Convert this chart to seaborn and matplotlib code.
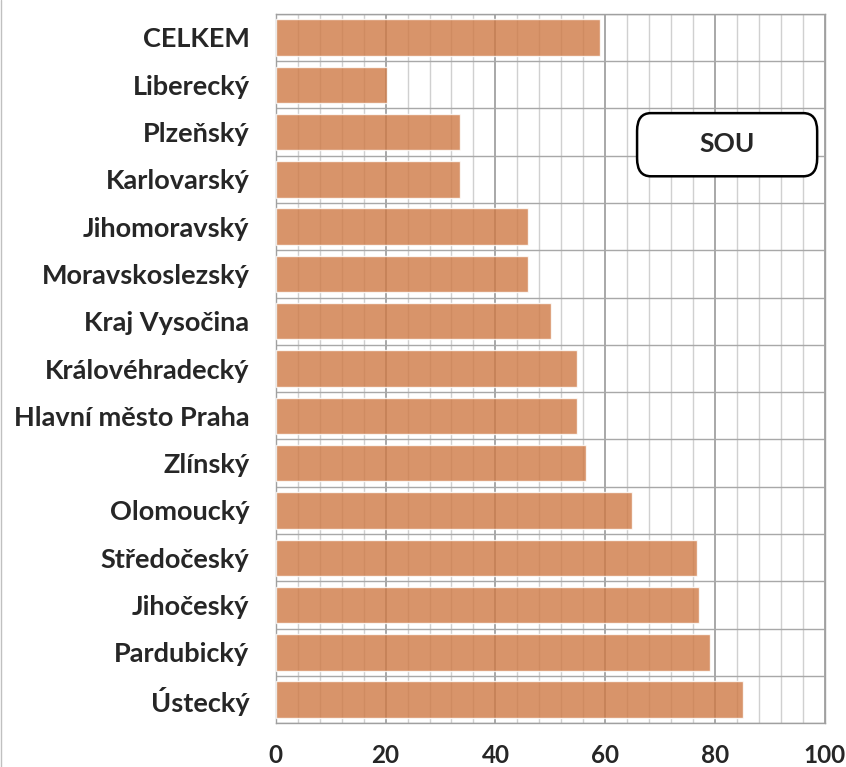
import pandas as pd
import matplotlib.pyplot as plt
import seaborn as sns
from matplotlib.patches import FancyBboxPatch
from matplotlib.ticker import MultipleLocator

# Data
kraje = ['CELKEM', 'Liberecký', 'Plzeňský', 'Karlovarský', 'Jihomoravský',
         'Moravskoslezský', 'Kraj Vysočina', 'Královéhradecký',
         'Hlavní město Praha', 'Zlínský', 'Olomoucký', 'Středočeský',
         'Jihočeský', 'Pardubický', 'Ústecký']
hodnoty = [59.0, 20.2, 33.5, 33.5, 46.0, 46.0, 50.1, 54.8, 54.8, 56.5,
           64.8, 76.7, 77.0, 79.1, 85.1]

df = pd.DataFrame({'kraj': kraje, 'hodnota': hodnoty})

sns.set_style('white')
plt.rcParams['font.family'] = ['Lato', 'DejaVu Sans']
plt.rcParams['font.weight'] = 'bold'

fig = plt.figure(figsize=(8.46, 7.67), dpi=100)
ax = fig.add_axes([0.326, 0.057, 0.649, 0.925])

sns.barplot(data=df, x='hodnota', y='kraj', orient='h', color='#CF7A45',
            alpha=0.8, saturation=1, width=0.77, ax=ax, zorder=3)

ax.set_xlim(0, 100)
ax.set_ylim(len(kraje) - 0.5, -0.5)
ax.xaxis.set_major_locator(MultipleLocator(20))
ax.xaxis.set_minor_locator(MultipleLocator(4))
ax.set_yticks([i + 0.5 for i in range(-1, len(kraje))], minor=True)

ax.grid(which='major', axis='x', color='#9a9a9a', linewidth=1.2, zorder=1)
ax.grid(which='minor', axis='x', color='#d0d0d0', linewidth=1.0, zorder=1)
ax.grid(which='minor', axis='y', color='#a8a8a8', linewidth=1.0, zorder=1)
ax.set_axisbelow(True)

for s in ax.spines.values():
    s.set_color('#a0a0a0')
    s.set_linewidth(1.0)

ax.tick_params(axis='y', which='major', length=0, pad=19, labelsize=19.5)
ax.tick_params(axis='y', which='minor', length=6, color='#a0a0a0', direction='out')
ax.tick_params(axis='x', which='major', length=7, color='#a0a0a0', direction='out',
               pad=8, labelsize=17.5)
ax.tick_params(axis='x', which='minor', length=0)

ax.set_xlabel('')
ax.set_ylabel('')

# SOU label box
box = FancyBboxPatch((0.658, 0.771), 0.328, 0.089, boxstyle='round,pad=0,rounding_size=0.025',
                     transform=ax.transAxes, facecolor='white', edgecolor='black',
                     linewidth=1.8, zorder=5)
ax.add_patch(box)
ax.text(0.822, 0.816, 'SOU', transform=ax.transAxes, ha='center', va='center',
        fontsize=19, fontweight='bold', zorder=6)

# thin frame on the left edge of the figure
fig.add_artist(plt.Line2D([0.001, 0.001], [0, 1], color='#c0c0c0', linewidth=1,
                          transform=fig.transFigure))

plt.savefig('out.png', dpi=100)
